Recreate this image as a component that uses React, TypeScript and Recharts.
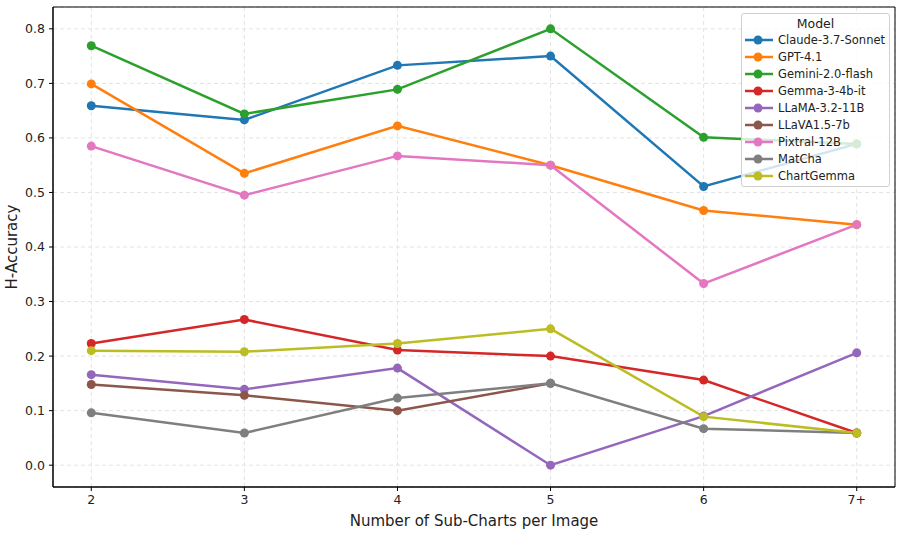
import React from "react";
import {
  LineChart,
  Line,
  XAxis,
  YAxis,
  CartesianGrid,
  ReferenceArea,
} from "recharts";

const subChartLabels = ["2", "3", "4", "5", "6", "7+"];

const claude = [0.659, 0.633, 0.733, 0.75, 0.511, 0.589];
const gpt41 = [0.699, 0.535, 0.622, 0.55, 0.467, 0.441];
const gemini = [0.769, 0.644, 0.689, 0.8, 0.601, 0.589];
const gemma = [0.223, 0.267, 0.211, 0.2, 0.156, 0.059];
const llama = [0.166, 0.139, 0.178, 0.0, 0.09, 0.206];
const llava = [0.148, 0.128, 0.1, 0.15, null, null];
const pixtral = [0.585, 0.495, 0.567, 0.55, 0.333, 0.441];
const matcha = [0.096, 0.059, 0.123, 0.15, 0.067, 0.059];
const chartGemma = [0.21, 0.208, 0.223, 0.25, 0.089, 0.059];

const yTicks = [0, 0.1, 0.2, 0.3, 0.4, 0.5, 0.6, 0.7, 0.8];

const models = [
  { key: "Claude-3.7-Sonnet", values: claude, color: "#1f77b4" },
  { key: "GPT-4.1", values: gpt41, color: "#ff7f0e" },
  { key: "Gemini-2.0-flash", values: gemini, color: "#2ca02c" },
  { key: "Gemma-3-4b-it", values: gemma, color: "#d62728" },
  { key: "LLaMA-3.2-11B", values: llama, color: "#9467bd" },
  { key: "LLaVA1.5-7b", values: llava, color: "#8c564b" },
  { key: "Pixtral-12B", values: pixtral, color: "#e377c2" },
  { key: "MatCha", values: matcha, color: "#7f7f7f" },
  { key: "ChartGemma", values: chartGemma, color: "#bcbd22" },
];

const data = subChartLabels.map((label, i) => {
  const row: Record<string, number | string | null> = { idx: i, label };
  models.forEach((m) => {
    row[m.key] = m.values[i];
  });
  return row;
});

const FONT = "'DejaVu Sans', sans-serif";
const tickStyle = { fill: "#222", fontSize: 12.5, fontFamily: FONT };

function ModelLegend() {
  return (
    <div
      style={{
        position: "absolute",
        left: 741,
        top: 13,
        width: 149,
        height: 174,
        boxSizing: "border-box",
        background: "rgba(255,255,255,0.8)",
        border: "1px solid #d0d0d0",
        borderRadius: 3,
        fontFamily: FONT,
        fontSize: 11.5,
        color: "#222",
        paddingTop: 2,
      }}
    >
      <div style={{ textAlign: "center", fontSize: 12.5, lineHeight: "15px", marginBottom: 1 }}>Model</div>
      {models.map((m) => (
        <div key={m.key} style={{ display: "flex", alignItems: "center", height: 16.9 }}>
          <svg width={36} height={12} style={{ flex: "none" }}>
            <line x1={3} y1={6} x2={31} y2={6} stroke={m.color} strokeWidth={2.5} />
            <circle cx={16} cy={6} r={4.5} fill={m.color} />
          </svg>
          <span style={{ whiteSpace: "nowrap" }}>{m.key}</span>
        </div>
      ))}
    </div>
  );
}

export default function App() {
  return (
    <div style={{ position: "absolute", left: 0, top: 0, width: 902, height: 535, background: "#fff" }}>
      <LineChart width={902} height={535} data={data} margin={{ top: 7, right: 7, bottom: 0, left: 0 }}>
        <CartesianGrid stroke="#e3e3e3" strokeDasharray="4 3" />
        <XAxis
          dataKey="idx"
          type="number"
          domain={[-0.25, 5.25]}
          ticks={[0, 1, 2, 3, 4, 5]}
          tickFormatter={(v: number) => subChartLabels[v]}
          tick={tickStyle}
          tickSize={4}
          tickMargin={4}
          stroke="#000"
          height={48}
          label={() => (
            <text
              x={474}
              y={521}
              textAnchor="middle"
              dominantBaseline="central"
              style={{ fontFamily: FONT, fontSize: 15, fill: "#222" }}
            >
              Number of Sub-Charts per Image
            </text>
          )}
        />
        <YAxis
          type="number"
          domain={[-0.04, 0.84]}
          ticks={yTicks}
          tickFormatter={(v: number) => v.toFixed(1)}
          tick={tickStyle}
          tickSize={4}
          tickMargin={4}
          stroke="#000"
          width={53}
          allowDataOverflow
          label={() => (
            <text
              x={12}
              y={247}
              transform="rotate(-90 12 247)"
              textAnchor="middle"
              dominantBaseline="central"
              style={{ fontFamily: FONT, fontSize: 15, fill: "#222" }}
            >
              H-Accuracy
            </text>
          )}
        />
        {models.map((m) => (
          <Line
            key={m.key}
            dataKey={m.key}
            type="linear"
            stroke={m.color}
            strokeWidth={2.5}
            dot={{ r: 4.5, fill: m.color, stroke: m.color, strokeWidth: 0 }}
            activeDot={false}
            isAnimationActive={false}
          />
        ))}
        <ReferenceArea x1={-0.25} x2={5.25} y1={-0.04} y2={0.84} fill="none" stroke="#000" strokeWidth={1} />
      </LineChart>
      <ModelLegend />
    </div>
  );
}
